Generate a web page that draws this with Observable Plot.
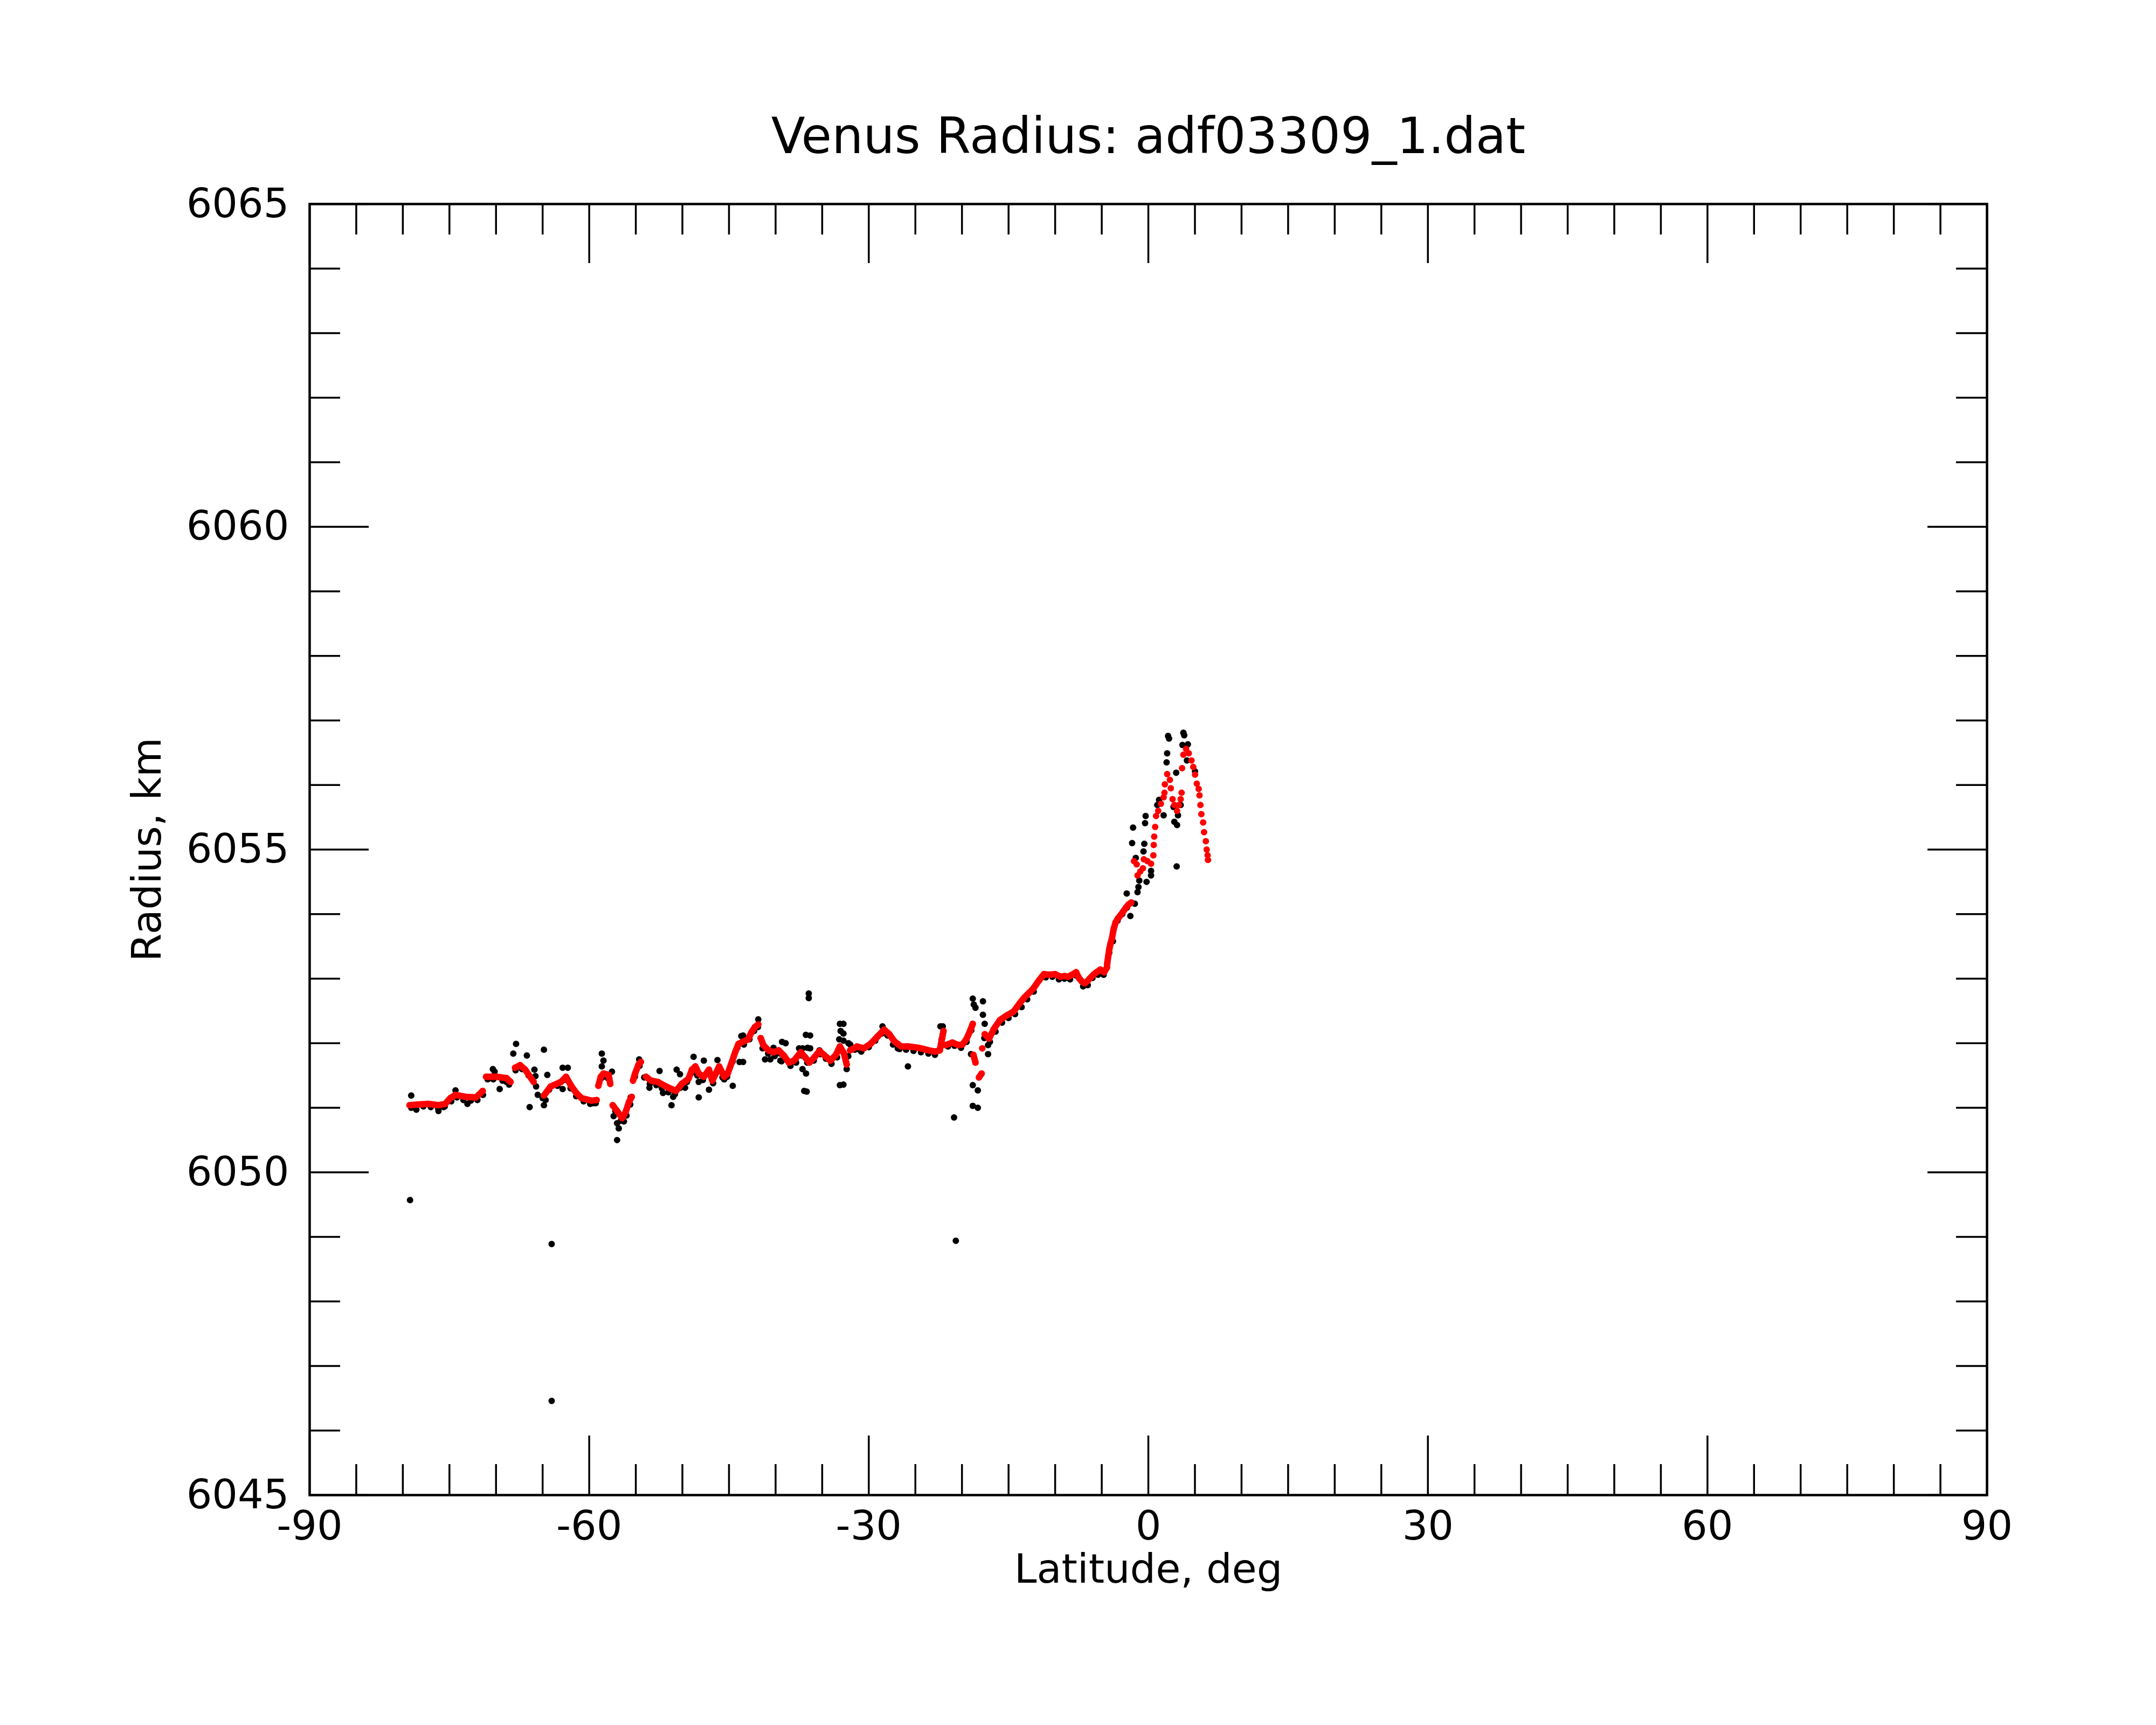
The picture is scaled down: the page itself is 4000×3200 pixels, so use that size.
<!DOCTYPE html>
<html><head><meta charset="utf-8">
<script src="https://cdn.jsdelivr.net/npm/d3@7"></script>
<script src="https://cdn.jsdelivr.net/npm/@observablehq/plot@0.6"></script>
<style>html,body{margin:0;padding:0;background:#fff} svg{display:block}</style>
</head><body><div id="chart"></div>
<script>
const title = "Venus Radius: adf03309_1.dat";
const xLabel = "Latitude, deg";
const yLabel = "Radius, km";
const xMajor = [-90,-60,-30,0,30,60,90];
const xMinor = [-85,-80,-75,-70,-65,-55,-50,-45,-40,-35,-25,-20,-15,-10,-5,5,10,15,20,25,35,40,45,50,55,65,70,75,80,85];
const yMajor = [6045,6050,6055,6060,6065];
const yMinor = [6046,6047,6048,6049,6051,6052,6053,6054,6056,6057,6058,6059,6061,6062,6063,6064];

// smoothed profile (red)
const redLat = [-79.28,-78.37,-77.27,-76.18,-75.45,-74.90,-74.35,-73.26,-72.16,-71.43,-71.07,-69.97,-68.88,-68.44,-67.96,-67.42,-66.87,-65.96,-64.86,-64.13,-63.03,-62.49,-61.94,-61.39,-60.84,-59.75,-59.20,-59.02,-58.76,-58.47,-57.92,-57.74,-57.48,-57.01,-56.46,-56.10,-55.73,-55.44,-55.30,-55.08,-54.71,-54.45,-53.91,-53.36,-52.63,-51.90,-51.17,-50.69,-50.07,-49.34,-48.98,-48.61,-48.25,-47.70,-47.15,-46.79,-46.42,-46.06,-45.51,-45.14,-44.71,-44.34,-43.98,-43.39,-42.95,-42.59,-42.22,-41.86,-41.60,-41.31,-40.77,-40.22,-39.67,-39.12,-38.57,-38.03,-37.30,-36.82,-36.38,-35.84,-35.29,-34.74,-34.12,-33.53,-33.10,-32.66,-32.37,-32.00,-31.27,-30.54,-29.81,-29.08,-28.35,-27.80,-27.26,-26.53,-25.79,-24.68,-23.59,-22.86,-22.38,-22.13,-21.98,-21.76,-21.03,-20.38,-19.94,-19.50,-19.13,-18.84,-18.77,-18.55,-18.18,-17.89,-17.82,-17.56,-17.09,-16.58,-15.92,-15.19,-14.46,-13.80,-13.30,-12.80,-12.33,-11.80,-11.37,-11.20,-10.60,-10.00,-9.40,-9.00,-8.60,-8.20,-7.75,-7.45,-7.10,-6.80,-6.55,-6.30,-5.90,-5.55,-5.15,-4.75,-4.45,-4.40,-4.30,-4.20,-4.05,-3.91,-3.72,-3.52,-3.28,-3.00,-2.70,-2.40,-2.12,-1.83,-1.54,-1.25,-1.16,-0.87,-0.58,-0.48,-0.10,0.29,0.54,0.58,0.63,0.73,0.83,1.06,1.35,1.64,1.73,1.77,2.02,2.31,2.41,2.60,2.79,3.08,3.28,3.47,3.57,3.62,3.76,4.05,4.34,4.63,4.82,5.01,5.20,5.40,5.49,5.59,5.69,5.88,5.98,6.17,6.26,6.36,6.40];
const redR = [6051.04,6051.05,6051.06,6051.04,6051.06,6051.15,6051.20,6051.17,6051.16,6051.26,6051.48,6051.48,6051.46,6051.40,6051.62,6051.66,6051.59,6051.40,6051.19,6051.33,6051.40,6051.48,6051.34,6051.23,6051.15,6051.11,6051.12,6051.34,6051.48,6051.53,6051.51,6051.37,6051.04,6050.95,6050.84,6050.93,6051.09,6051.17,6051.42,6051.53,6051.67,6051.71,6051.48,6051.42,6051.40,6051.34,6051.29,6051.26,6051.37,6051.45,6051.59,6051.64,6051.53,6051.48,6051.59,6051.42,6051.53,6051.64,6051.48,6051.53,6051.70,6051.86,6051.99,6052.03,6052.06,6052.17,6052.25,6052.29,6052.08,6051.97,6051.89,6051.86,6051.89,6051.81,6051.70,6051.73,6051.86,6051.78,6051.70,6051.78,6051.88,6051.81,6051.73,6051.82,6051.95,6051.84,6051.67,6051.89,6051.95,6051.92,6051.99,6052.10,6052.21,6052.14,6052.03,6051.95,6051.95,6051.93,6051.89,6051.87,6051.89,6052.08,6052.19,6051.97,6052.01,6051.97,6051.98,6052.07,6052.19,6052.30,6051.82,6051.70,6051.47,6051.53,6051.92,6052.14,6052.07,6052.22,6052.36,6052.43,6052.49,6052.62,6052.71,6052.78,6052.85,6052.96,6053.04,6053.07,6053.06,6053.07,6053.03,6053.04,6053.03,6053.06,6053.10,6053.01,6052.95,6052.93,6052.96,6053.00,6053.06,6053.10,6053.14,6053.10,6053.17,6053.25,6053.35,6053.45,6053.55,6053.62,6053.77,6053.87,6053.93,6053.98,6054.04,6054.10,6054.15,6054.18,6054.82,6054.77,6054.60,6054.66,6054.71,6054.85,6054.82,6054.78,6054.91,6055.07,6055.20,6055.35,6055.52,6055.60,6055.71,6055.81,6055.88,6056.01,6056.17,6056.08,6055.95,6055.78,6055.69,6055.60,6055.69,6055.78,6055.88,6056.26,6056.47,6056.56,6056.49,6056.38,6056.28,6056.16,6056.02,6055.94,6055.84,6055.69,6055.55,6055.42,6055.27,6055.13,6055.00,6054.91,6054.84];

// raw measurements (black)
const blackLat = [-79.1,-78.6,-77.8,-77.0,-76.2,-75.5,-74.8,-74.2,-73.5,-72.7,-72.0,-71.4,-70.9,-70.3,-69.3,-68.6,-67.9,-67.2,-66.5,-65.7,-65.0,-64.3,-63.4,-62.7,-62.0,-61.4,-60.6,-59.9,-59.3,-58.6,-58.0,-57.2,-56.6,-56.0,-55.6,-55.1,-54.6,-54.1,-53.5,-52.8,-52.2,-51.5,-50.8,-50.2,-49.5,-48.9,-48.4,-47.8,-47.3,-46.7,-46.2,-45.7,-45.2,-44.6,-44.1,-43.4,-42.8,-42.3,-41.9,-41.4,-40.8,-40.1,-39.5,-39.0,-38.4,-37.8,-37.2,-36.6,-35.9,-35.2,-34.6,-34.0,-33.4,-32.9,-32.2,-31.5,-30.8,-30.0,-29.3,-28.6,-28.0,-27.4,-26.7,-26.0,-25.2,-24.4,-23.6,-22.9,-22.2,-21.5,-20.8,-20.1,-19.5,-19.0,-17.6,-17.0,-16.4,-15.7,-15.0,-14.3,-13.6,-13.0,-12.3,-11.7,-11.0,-10.3,-9.6,-9.0,-8.4,-7.8,-7.0,-6.5,-6.0,-5.4,-4.8,-4.2,-3.8,-3.3,-2.8,-2.3,
-79.23,-64.03,-64.03,-20.66,-79.10,-78.55,-76.18,-75.63,-74.35,-73.07,-70.34,-70.15,-69.61,-68.88,-68.15,-67.85,-66.69,-66.39,-65.88,-65.77,-65.52,-64.86,-64.86,-64.68,-64.50,-62.85,-62.30,-62.85,-59.57,-58.65,-58.47,-58.65,-57.56,-57.38,-57.01,-56.83,-57.01,-56.28,-55.55,-54.64,-53.54,-52.45,-52.08,-51.17,-50.99,-50.62,-50.26,-49.71,-48.80,-48.25,-48.25,-47.70,-47.15,-46.24,-45.51,-44.60,-43.87,-43.68,-41.86,-41.13,-40.22,-39.31,-39.49,-37.48,-37.11,-36.93,-36.75,-36.57,-35.29,-33.10,-33.02,-33.17,-33.10,-32.37,-32.18,-30.91,-28.53,-26.89,-25.80,
-43.49,-43.49,-40.57,-38.92,-39.36,-37.10,-36.73,-36.66,-36.44,-36.44,-36.29,-36.29,-32.72,-32.72,-32.72,-32.72,-31.99,-22.06,-22.06,-20.85,-18.84,-18.73,-18.55,-17.75,-17.75,-17.56,-18.84,-18.30,-18.84,-18.30,-17.20,-17.20,-19.03,-22.31,
2.12,2.22,3.76,3.85,4.24,3.66,2.02,1.96,2.99,4.14,5.01,1.15,0.96,1.64,2.70,3.47,3.18,2.79,3.08,-0.29,-0.35,-1.64,-1.74,-0.43,-0.52,-1.35,0.29,0.29,-0.19,-0.97,-1.06,-1.16,-2.32,-1.45,-1.93,3.04];
const blackR = [6051.00,6051.00,6051.02,6051.01,6050.99,6051.02,6051.10,6051.16,6051.12,6051.11,6051.12,6051.20,6051.44,6051.44,6051.42,6051.36,6051.58,6051.60,6051.50,6051.33,6051.15,6051.28,6051.34,6051.43,6051.30,6051.18,6051.10,6051.06,6051.07,6051.47,6051.46,6050.95,6050.80,6050.88,6051.05,6051.48,6051.65,6051.47,6051.37,6051.35,6051.30,6051.24,6051.21,6051.31,6051.40,6051.55,6051.50,6051.43,6051.53,6051.38,6051.58,6051.47,6051.48,6051.72,6051.93,6051.98,6052.06,6052.19,6052.25,6051.92,6051.84,6051.80,6051.84,6051.76,6051.65,6051.70,6051.81,6051.70,6051.73,6051.83,6051.76,6051.68,6051.78,6051.88,6051.80,6051.90,6051.87,6051.94,6052.04,6052.15,6052.12,6051.98,6051.91,6051.90,6051.88,6051.86,6051.84,6051.82,6052.05,6051.95,6051.96,6051.93,6052.02,6052.20,6052.08,6052.02,6052.18,6052.32,6052.39,6052.45,6052.56,6052.68,6052.80,6052.98,6053.02,6053.03,6052.99,6053.00,6052.99,6053.05,6052.88,6052.90,6053.01,6053.06,6053.06,6053.40,6053.58,6053.90,6054.00,6054.10,
6049.57,6048.89,6046.46,6048.94,6051.19,6050.97,6050.95,6051.01,6051.27,6051.06,6051.60,6051.56,6051.29,6051.40,6051.84,6051.99,6051.81,6051.01,6051.59,6051.49,6051.20,6051.90,6051.04,6051.12,6051.51,6051.62,6051.62,6051.29,6051.07,6051.84,6051.73,6051.64,6051.56,6050.87,6050.76,6050.68,6050.50,6050.79,6051.16,6051.75,6051.31,6051.57,6051.23,6051.04,6051.17,6051.59,6051.52,6051.31,6051.79,6051.40,6051.16,6051.73,6051.28,6051.74,6051.44,6051.34,6051.71,6052.11,6052.37,6051.75,6051.93,6052.02,6051.73,6051.92,6051.60,6051.26,6052.13,6051.93,6051.89,6052.30,6052.19,6052.06,6051.35,6051.60,6052.00,6051.89,6052.26,6051.92,6051.64,
6051.71,6052.12,6051.75,6052.00,6051.72,6051.92,6051.53,6051.25,6052.77,6052.70,6052.12,6051.92,6052.30,6052.15,6052.04,6051.36,6051.98,6052.26,6052.14,6050.85,6052.69,6052.60,6052.55,6052.65,6052.44,6052.30,6051.35,6051.27,6051.03,6051.00,6051.97,6051.83,6051.83,6052.26,
6056.76,6056.72,6056.81,6056.77,6056.63,6056.62,6056.49,6056.35,6056.19,6056.38,6056.21,6055.77,6055.69,6055.53,6055.66,6055.69,6055.53,6055.43,6055.38,6055.52,6055.41,6055.34,6055.10,6055.09,6054.97,6054.87,6054.67,6054.60,6054.50,6054.52,6054.42,6054.34,6054.32,6054.16,6053.97,6054.74];

const red = redLat.map((lat, i) => ({lat, r: redR[i]}));
const black = blackLat.map((lat, i) => ({lat, r: blackR[i]}));
let seg = 0;
red.forEach((d, i) => { if (i > 0 && Math.abs(d.r - red[i - 1].r) > 0.2) seg++; d.seg = seg; });
const redLine = red.filter(d => d.lat < -1.7);

const W = 4000, H = 3200, mL = 574, mR = 314, mT = 378, mB = 427;
const fw = W - mL - mR, fh = H - mT - mB;
const majorLen = 110, minorLen = 57, tickW = 3.5;
const fmt = d => String(d);

const chart = Plot.plot({
  width: W, height: H,
  marginLeft: mL, marginRight: mR, marginTop: mT, marginBottom: mB,
  style: {fontFamily: "'DejaVu Sans', sans-serif", background: "white", color: "black"},
  x: {domain: [-90, 90]},
  y: {domain: [6045, 6065]},
  marks: [
    Plot.dot(black, {x: "lat", y: "r", r: 6, fill: "black", stroke: "none"}),
    Plot.line(redLine, {x: "lat", y: "r", z: "seg", stroke: "#ff0000", strokeWidth: 12}),
    Plot.dot(red, {x: "lat", y: "r", r: 6, fill: "#ff0000", stroke: "none"}),
    // ticks, all pointing inward
    Plot.tickX(xMajor, {insetTop: fh - majorLen, stroke: "black", strokeWidth: tickW}),
    Plot.tickX(xMajor, {insetBottom: fh - majorLen, stroke: "black", strokeWidth: tickW}),
    Plot.tickX(xMinor, {insetTop: fh - minorLen, stroke: "black", strokeWidth: tickW}),
    Plot.tickX(xMinor, {insetBottom: fh - minorLen, stroke: "black", strokeWidth: tickW}),
    Plot.tickY(yMajor, {insetRight: fw - majorLen, stroke: "black", strokeWidth: tickW}),
    Plot.tickY(yMajor, {insetLeft: fw - majorLen, stroke: "black", strokeWidth: tickW}),
    Plot.tickY(yMinor, {insetRight: fw - minorLen, stroke: "black", strokeWidth: tickW}),
    Plot.tickY(yMinor, {insetLeft: fw - minorLen, stroke: "black", strokeWidth: tickW}),
    Plot.frame({stroke: "black", strokeWidth: 4.5}),
    Plot.axisX(xMajor, {tickSize: 0, tickPadding: 29, fontSize: 75, tickFormat: fmt, label: null}),
    Plot.axisY(yMajor, {tickSize: 0, tickPadding: 38, fontSize: 75, tickFormat: fmt, label: null}),
    Plot.text([title], {frameAnchor: "top", lineAnchor: "bottom", dy: -95, fontSize: 92, fill: "black"}),
    Plot.text([xLabel], {frameAnchor: "bottom", lineAnchor: "bottom", dy: 162, fontSize: 75, fill: "black"}),
    Plot.text([yLabel], {frameAnchor: "left", textAnchor: "middle", lineAnchor: "bottom", dx: -277, rotate: -90, fontSize: 75, fill: "black"})
  ]
});
document.getElementById("chart").appendChild(chart);
</script>
</body></html>
